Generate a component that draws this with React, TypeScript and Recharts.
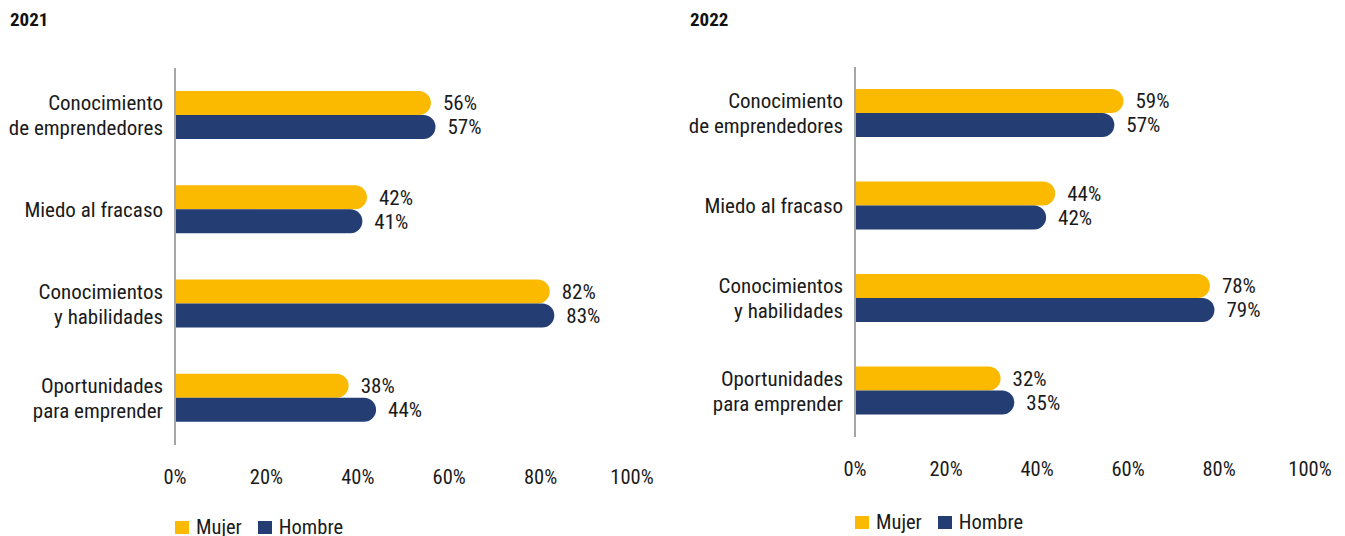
import { Bar, BarChart, LabelList, XAxis, YAxis } from "recharts";

const categories = [
  "Conocimiento\nde emprendedores",
  "Miedo al fracaso",
  "Conocimientos\ny habilidades",
  "Oportunidades\npara emprender",
];
const mujer2021 = [56, 42, 82, 38];
const hombre2021 = [57, 41, 83, 44];
const mujer2022 = [59, 44, 78, 32];
const hombre2022 = [57, 42, 79, 35];
const xTicks = [0, 20, 40, 60, 80, 100];

const YELLOW = "#FBBA00";
const NAVY = "#243D72";
const TEXT = "#1a1a1a";
const FONT = "Roboto, sans-serif";
const CAT_SIZE = 21;
const VAL_SIZE = 21;
const TICK_SIZE = 20.5;

function CategoryTick({ x, y, payload }: any) {
  const lines = String(payload.value).split("\n");
  const lh = 25;
  return (
    <text
      x={x}
      y={y}
      textAnchor="end"
      fill={TEXT}
      fontSize={CAT_SIZE}
      fontFamily={FONT}
      style={{ fontStretch: "condensed" }}
    >
      {lines.map((l, i) => (
        <tspan
          key={i}
          x={x}
          dy={i === 0 ? 7.4 - ((lines.length - 1) * lh) / 2 : lh}
        >
          {l}
        </tspan>
      ))}
    </text>
  );
}

function Panel({
  title,
  mujer,
  hombre,
  plotTop,
  plotBottom,
  plotRight,
  tickGap,
  legendTop,
}: {
  title: string;
  mujer: number[];
  hombre: number[];
  plotTop: number;
  plotBottom: number;
  plotRight: number;
  tickGap: number;
  legendTop: number;
}) {
  const data = categories.map((cat, i) => ({
    cat,
    mujer: mujer[i],
    hombre: hombre[i],
  }));
  const W = 672;
  const H = 536;
  const xAxisHeight = 40;
  return (
    <div style={{ position: "relative", width: W, height: H }}>
      <div
        style={{
          position: "absolute",
          left: 10,
          top: 8,
          fontFamily: FONT,
          fontWeight: 700,
          fontSize: 19,
          color: "#111",
          fontStretch: "condensed",
        }}
      >
        {title}
      </div>
      <BarChart
        width={W}
        height={H}
        data={data}
        layout="vertical"
        barSize={24}
        barGap={0}
        margin={{
          top: plotTop,
          right: W - plotRight,
          left: 0,
          bottom: H - plotBottom - xAxisHeight,
        }}
      >
        <XAxis
          type="number"
          domain={[0, 100]}
          ticks={xTicks}
          tickFormatter={(v: number) => `${v}%`}
          axisLine={false}
          tickLine={false}
          height={xAxisHeight}
          tickMargin={tickGap}
          tick={{
            fill: TEXT,
            fontSize: TICK_SIZE,
            fontFamily: FONT,
            style: { fontStretch: "condensed" },
          }}
          interval={0}
        />
        <YAxis
          type="category"
          dataKey="cat"
          width={175}
          axisLine={{ stroke: "#A6A6A6", strokeWidth: 2 }}
          tickLine={false}
          tickMargin={6}
          tick={<CategoryTick />}
          interval={0}
        />
        <Bar
          dataKey="mujer"
          fill={YELLOW}
          radius={[0, 12, 12, 0]}
          isAnimationActive={false}
        >
          <LabelList
            dataKey="mujer"
            position="right"
            offset={12}
            formatter={(v: any) => `${v}%`}
            fill={TEXT}
            fontSize={VAL_SIZE}
            fontFamily={FONT}
            style={{ fontStretch: "condensed" }}
          />
        </Bar>
        <Bar
          dataKey="hombre"
          fill={NAVY}
          radius={[0, 12, 12, 0]}
          isAnimationActive={false}
        >
          <LabelList
            dataKey="hombre"
            position="right"
            offset={12}
            formatter={(v: any) => `${v}%`}
            fill={TEXT}
            fontSize={VAL_SIZE}
            fontFamily={FONT}
            style={{ fontStretch: "condensed" }}
          />
        </Bar>
      </BarChart>
      <div
        style={{
          position: "absolute",
          left: 175,
          top: legendTop,
          display: "flex",
          alignItems: "center",
          fontFamily: FONT,
          fontSize: TICK_SIZE,
          color: TEXT,
          fontStretch: "condensed",
          lineHeight: "22px",
        }}
      >
        <span
          style={{ width: 14, height: 13, background: YELLOW, marginRight: 7 }}
        />
        <span style={{ marginRight: 16 }}>Mujer</span>
        <span
          style={{ width: 14, height: 13, background: NAVY, marginRight: 7 }}
        />
        <span>Hombre</span>
      </div>
    </div>
  );
}

export default function App() {
  return (
    <div
      style={{
        position: "relative",
        width: 1345,
        height: 536,
        background: "#fff",
        overflow: "hidden",
      }}
    >
      <style>{`body{margin:0}`}</style>
      <div style={{ position: "absolute", left: 0, top: 0 }}>
        <Panel
          title="2021"
          mujer={mujer2021}
          hombre={hombre2021}
          plotTop={68}
          plotBottom={445}
          plotRight={632}
          tickGap={18}
          legendTop={516}
        />
      </div>
      <div style={{ position: "absolute", left: 680, top: 0 }}>
        <Panel
          title="2022"
          mujer={mujer2022}
          hombre={hombre2022}
          plotTop={67}
          plotBottom={437}
          plotRight={1310 - 680}
          tickGap={18}
          legendTop={511}
        />
      </div>
    </div>
  );
}
